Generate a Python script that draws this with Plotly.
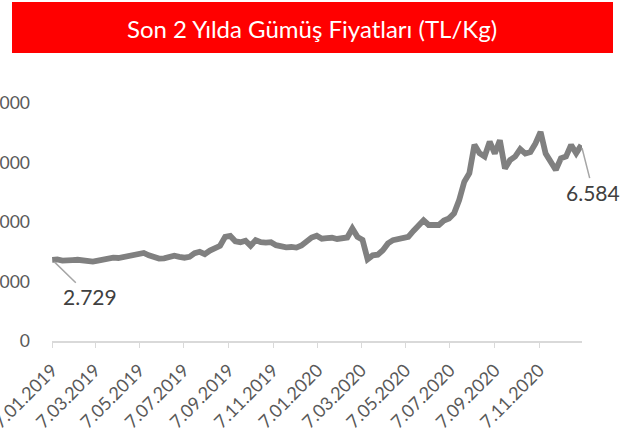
import pandas as pd
import plotly.graph_objects as go

title_text = "Son 2 Yılda Gümüş Fiyatları (TL/Kg)"

dates = pd.date_range("2019-01-07", periods=105, freq="7D")
prices = [
    2729, 2740, 2700, 2690, 2720, 2730, 2710, 2690, 2670, 2700,
    2740, 2770, 2800, 2790, 2830, 2860, 2880, 2920, 2960, 2880,
    2800, 2770, 2780, 2830, 2870, 2830, 2800, 2830, 2950, 3000,
    2920, 3040, 3120, 3200, 3500, 3530, 3350, 3320, 3370, 3200,
    3390, 3320, 3310, 3320, 3220, 3170, 3150, 3160, 3140, 3210,
    3360, 3480, 3540, 3440, 3460, 3470, 3430, 3470, 3480, 3780,
    3500, 3400, 2750, 2880, 2900, 3050, 3280, 3390, 3440, 3470,
    3500, 3700, 3850, 4060, 3900, 3920, 3900, 4050, 4120, 4290,
    4740, 5350, 5640, 6600, 6310, 6200, 6700, 6300, 6750, 5800,
    6080, 6200, 6450, 6300, 6350, 6640, 7030, 6300, 6050, 5750,
    6140, 6200, 6590, 6310, 6584,
]

x_tick_dates = ["2019-01-07", "2019-03-07", "2019-05-07", "2019-07-07",
                "2019-09-07", "2019-11-07", "2020-01-07", "2020-03-07",
                "2020-05-07", "2020-07-07", "2020-09-07", "2020-11-07"]
x_tick_labels = ["7.01.2019", "7.03.2019", "7.05.2019", "7.07.2019",
                 "7.09.2019", "7.11.2019", "7.01.2020", "7.03.2020",
                 "7.05.2020", "7.07.2020", "7.09.2020", "7.11.2020"]
y_tick_vals = [0, 2000, 4000, 6000, 8000]
y_tick_labels = ["0", "2.000", "4.000", "6.000", "8.000"]

first_label = "2.729"
last_label = "6.584"

FONT = "Lato"

# plot area targeted at x 52..582, y 103..341 (body margin removed below)
L, R, T, B = 52, 43, 103, 91
PW, PH = 530, 238

fig = go.Figure()
fig.add_trace(go.Scatter(
    x=dates, y=prices, mode="lines",
    line=dict(color="#808080", width=5.8),
    hoverinfo="x+y", showlegend=False,
))

fig.add_annotation(
    x=dates[0], y=prices[0], text=first_label,
    showarrow=True, arrowhead=0, arrowwidth=1.5, arrowcolor="#a6a6a6",
    ax=38, ay=37, standoff=3,
    font=dict(family=FONT, size=21, color="#404040"),
)
fig.add_annotation(
    x=dates[-1], y=prices[-1], text=last_label,
    showarrow=True, arrowhead=0, arrowwidth=1.5, arrowcolor="#a6a6a6",
    ax=12, ay=47, standoff=3,
    font=dict(family=FONT, size=21, color="#404040"),
)

# title banner (pixel targets in page coordinates)
fig.add_shape(
    type="rect", xref="paper", yref="paper",
    x0=(12 - 52) / PW, x1=(613 - 52) / PW,
    y0=(341 - 53) / PH, y1=(341 - 2) / PH,
    fillcolor="#ff0000", line=dict(width=0), layer="above",
)
fig.add_annotation(
    xref="paper", yref="paper",
    x=(312 - 52) / PW, y=(341 - 28) / PH,
    text=title_text, showarrow=False,
    font=dict(family=FONT, size=24, color="white"),
    xanchor="center", yanchor="middle",
)

fig.update_layout(
    width=625, height=432,
    margin=dict(l=L, r=R, t=T, b=B),
    paper_bgcolor="white", plot_bgcolor="white",
    font=dict(family=FONT, color="#595959"),
    xaxis=dict(
        range=["2019-01-06 18:00", "2021-01-05"],
        tickvals=x_tick_dates, ticktext=x_tick_labels,
        tickangle=-45, tickfont=dict(size=18, color="#595959"),
        showgrid=False, showline=True, linecolor="#d9d9d9", linewidth=1.5,
        ticks="outside", ticklen=5, tickcolor="#d9d9d9",
        ticklabelstandoff=5, ticklabeloverflow="allow",
        zeroline=False, automargin=False,
    ),
    yaxis=dict(
        range=[0, 8000],
        tickvals=y_tick_vals, ticktext=y_tick_labels,
        tickfont=dict(size=17.5, color="#595959"),
        showgrid=False, showline=False, zeroline=False,
        ticks="", ticklabelstandoff=21, ticklabeloverflow="allow",
        automargin=False,
    ),
)

fig.write_html(
    "out.html",
    config={"displayModeBar": False},
    post_script="document.body.style.margin='0px';",
)
